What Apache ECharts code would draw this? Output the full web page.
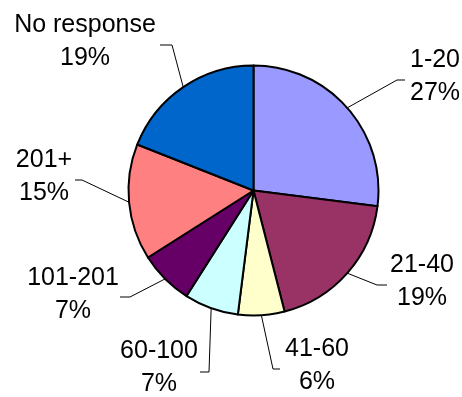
<!DOCTYPE html>
<html>
<head>
<meta charset="utf-8">
<script src="https://cdn.jsdelivr.net/npm/echarts@6/dist/echarts.min.js"></script>
<style>
  html, body { margin: 0; padding: 0; background: #fff; }
  #chart { width: 462px; height: 397px; }
</style>
</head>
<body>
<div id="chart"></div>
<script>
// 数据
var categories = ["1-20", "21-40", "41-60", "60-100", "101-201", "201+", "No response"];
var values = [27, 19, 6, 7, 7, 15, 19];
var colors = ["#9999FF", "#993366", "#FFFFCC", "#CCFFFF", "#660066", "#FF8080", "#0066CC"];

// label placement: text centre, elbow point, line end
var labelPos = [
    { x: 435, y: 77,  mid: [397, 80],  end: [405, 80] },
    { x: 422, y: 282, mid: [377, 285], end: [387, 285] },
    { x: 317, y: 366, mid: [273, 369], end: [280, 369] },
    { x: 159, y: 368, mid: [209, 372], end: [200, 372] },
    { x: 73,  y: 295, mid: [130, 297], end: [120, 297] },
    { x: 44,  y: 177, mid: [82, 180],  end: [75, 180] },
    { x: 85,  y: 42,  mid: [172, 45],  end: [160, 45] }
];

var pieData = categories.map(function (name, i) {
    return { name: name, value: values[i], itemStyle: { color: colors[i] } };
});

var chart = echarts.init(document.getElementById('chart'));
chart.setOption({
    animation: false,
    series: [{
        type: 'pie',
        center: [253.5, 190.5],
        radius: 125,
        startAngle: 90,
        clockwise: true,
        avoidLabelOverlap: false,
        data: pieData,
        itemStyle: {
            borderColor: '#000',
            borderWidth: 2
        },
        label: {
            show: true,
            formatter: '{b}\n{c}%',
            fontFamily: 'Liberation Sans, Arial, sans-serif',
            fontSize: 25,
            lineHeight: 33,
            color: '#000',
            align: 'center'
        },
        labelLine: {
            show: true,
            lineStyle: { color: '#000', width: 1 }
        },
        labelLayout: function (params) {
            var p = labelPos[params.dataIndex];
            var start = params.labelLinePoints ? params.labelLinePoints[0] : p.mid;
            return {
                x: p.x,
                y: p.y,
                align: 'center',
                verticalAlign: 'middle',
                labelLinePoints: [start, p.mid, p.end]
            };
        },
        emphasis: { disabled: true }
    }]
});
</script>
</body>
</html>
